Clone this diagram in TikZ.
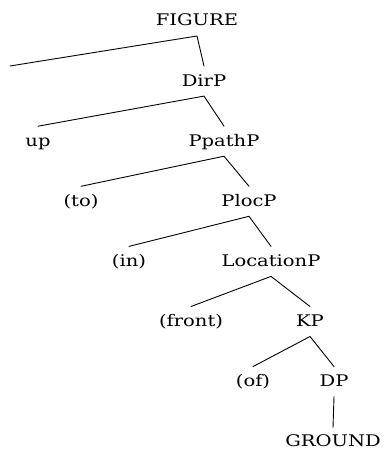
\documentclass[tikz,border=0pt]{standalone}
\usepackage{fontspec}
\setmainfont[FakeStretch=1.22]{DejaVu Serif}
\begin{document}
\begin{tikzpicture}[x=1pt,y=-1pt,
  lbl/.style={anchor=base,inner sep=0pt,font=\fontsize{16}{19}\selectfont},
  branch/.style={line width=0.9pt,line cap=round,line join=round}]
\useasboundingbox (0,0) rectangle (385,449);
% labels, one row every 60 units
\node[lbl] (fig) at (197,26) {FIGURE};
\node[lbl] (dirp) at (204,86.1) {DirP};
\node[lbl] (up) at (38,146.2) {up};
\node[lbl] (ppath) at (224,146.2) {PpathP};
\node[lbl] (to) at (81,206.3) {(to)};
\node[lbl] (ploc) at (249,206.3) {PlocP};
\node[lbl] (in) at (129,266.4) {(in)};
\node[lbl] (loc) at (271,266.4) {LocationP};
\node[lbl] (front) at (191,326.5) {(front)};
\node[lbl] (kp) at (310,326.5) {KP};
\node[lbl] (of) at (253,386.6) {(of)};
\node[lbl] (dp) at (334,386.6) {DP};
\node[lbl] (ground) at (333,446.5) {GROUND};
\coordinate (spec) at (10,66);
% branches: from 10 below a parent's baseline to 20 above a child's
\draw[branch] (spec) -- ([yshift=-10pt]fig.base) -- ([yshift=20pt]dirp.base);
\draw[branch] ([yshift=20pt]up.base) -- ([yshift=-10pt]dirp.base) -- ([yshift=20pt]ppath.base);
\draw[branch] ([yshift=20pt]to.base) -- ([yshift=-10pt]ppath.base) -- ([yshift=20pt]ploc.base);
\draw[branch] ([yshift=20pt]in.base) -- ([yshift=-10pt]ploc.base) -- ([yshift=20pt]loc.base);
\draw[branch] ([yshift=20pt]front.base) -- ([yshift=-10pt]loc.base) -- ([yshift=20pt]kp.base);
\draw[branch] ([yshift=20pt]of.base) -- ([yshift=-10pt]kp.base) -- ([yshift=20pt]dp.base);
\draw[branch] ([yshift=-10pt]dp.base) -- ([yshift=19pt]ground.base);
\end{tikzpicture}
\end{document}
